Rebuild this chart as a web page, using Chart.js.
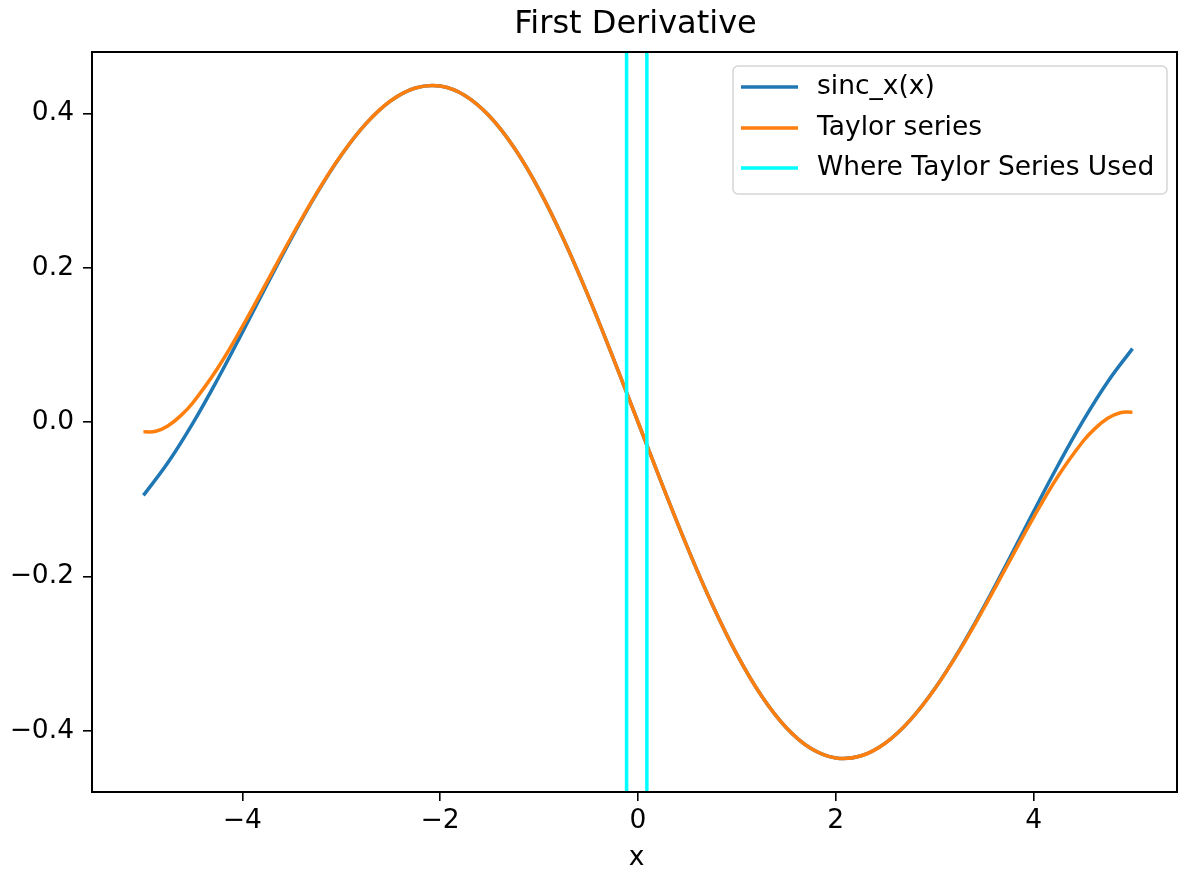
<!DOCTYPE html>
<html>
<head>
<meta charset="utf-8">
<script src="https://cdn.jsdelivr.net/npm/chart.js@4.4.0/dist/chart.umd.min.js"></script>
<style>
  html, body { margin: 0; padding: 0; background: #fff; }
  #wrap { width: 1178px; height: 875px; }
</style>
</head>
<body>
<div id="wrap"><canvas id="derivChart" width="1178" height="875"></canvas></div>
<script>
// x positions read along the axis
var xValues = [-5, -4.75, -4.5, -4.25, -4, -3.75, -3.5, -3.25, -3, -2.75, -2.5, -2.25, -2, -1.75, -1.5, -1.25, -1, -0.75, -0.5, -0.25,
  0, 0.25, 0.5, 0.75, 1, 1.25, 1.5, 1.75, 2, 2.25, 2.5, 2.75, 3, 3.25, 3.5, 3.75, 4, 4.25, 4.5, 4.75, 5];

// blue curve: sinc_x(x)
var sincValues = [-0.0951, -0.0522, -0.0014, 0.0554, 0.1161, 0.1782, 0.2389, 0.2956, 0.3457, 0.3866, 0.4162, 0.4329, 0.4354, 0.4232, 0.3962, 0.3551, 0.3012, 0.2362, 0.1625, 0.0828,
  0, -0.0828, -0.1625, -0.2362, -0.3012, -0.3551, -0.3962, -0.4232, -0.4354, -0.4329, -0.4162, -0.3866, -0.3457, -0.2956, -0.2389, -0.1782, -0.1161, -0.0554, 0.0014, 0.0522, 0.0951];

// orange curve: Taylor series (a few extra points near the ends where it bends)
var taylorX = [-5, -4.875, -4.75, -4.625, -4.5, -4.25, -4, -3.75, -3.5, -3.25, -3, -2.75, -2.5, -2.25, -2, -1.75, -1.5, -1.25, -1, -0.75, -0.5, -0.25,
  0, 0.25, 0.5, 0.75, 1, 1.25, 1.5, 1.75, 2, 2.25, 2.5, 2.75, 3, 3.25, 3.5, 3.75, 4, 4.25, 4.5, 4.625, 4.75, 4.875, 5];
var taylorValues = [-0.0128, -0.0120, -0.0048, 0.0079, 0.0250, 0.0697, 0.1235, 0.1819, 0.2407, 0.2964, 0.3460, 0.3867, 0.4163, 0.4329, 0.4354, 0.4232, 0.3962, 0.3551, 0.3012, 0.2362, 0.1625, 0.0828,
  0, -0.0828, -0.1625, -0.2362, -0.3012, -0.3551, -0.3962, -0.4232, -0.4354, -0.4329, -0.4163, -0.3867, -0.3460, -0.2964, -0.2407, -0.1819, -0.1235, -0.0697, -0.0250, -0.0079, 0.0048, 0.0120, 0.0128];

// cyan vertical lines
var taylorBounds = [-0.115, 0.09];

var xTicks = [-4, -2, 0, 2, 4];
var yTicks = [-0.4, -0.2, 0.0, 0.2, 0.4];

var legendLabels = ['sinc_x(x)', 'Taylor series', 'Where Taylor Series Used'];
var legendColors = ['#1f77b4', '#ff7f0e', '#00ffff'];

var fontName = '"DejaVu Sans", sans-serif';

function toPoints(xs, ys) {
  var pts = [];
  for (var i = 0; i < xs.length; i++) {
    pts.push({ x: xs[i], y: ys[i] });
  }
  return pts;
}

function minusSign(v, digits) {
  return v.toFixed(digits).replace('-', '\u2212');
}

var datasets = [
  {
    label: legendLabels[0],
    data: toPoints(xValues, sincValues),
    borderColor: legendColors[0],
    borderWidth: 3.5,
    tension: 0.4,
    order: 3
  },
  {
    label: legendLabels[1],
    data: toPoints(taylorX, taylorValues),
    borderColor: legendColors[1],
    borderWidth: 3.5,
    tension: 0.4,
    order: 2
  }
];
for (var i = 0; i < taylorBounds.length; i++) {
  datasets.push({
    label: legendLabels[2],
    data: [{ x: taylorBounds[i], y: -1 }, { x: taylorBounds[i], y: 1 }],
    borderColor: legendColors[2],
    borderWidth: 3.5,
    order: 1
  });
}

// spines, title, x label and legend box like the original figure
var framePlugin = {
  id: 'framePlugin',
  afterDraw: function (chart) {
    var ctx = chart.ctx;
    var a = chart.chartArea;
    ctx.save();
    ctx.strokeStyle = '#000';
    ctx.lineWidth = 2;
    ctx.strokeRect(a.left, a.top, a.right - a.left, a.bottom - a.top);

    ctx.fillStyle = '#000';
    ctx.textAlign = 'center';
    ctx.textBaseline = 'middle';
    ctx.font = '32px ' + fontName;
    ctx.fillText('First Derivative', (a.left + a.right) / 2 + 1, 25);
    ctx.font = '26.5px ' + fontName;
    ctx.fillText('x', (a.left + a.right) / 2 + 2, 858);

    // legend
    var bx = 733, by = 66, bw = 434, bh = 128, r = 5;
    ctx.beginPath();
    ctx.moveTo(bx + r, by);
    ctx.lineTo(bx + bw - r, by);
    ctx.arcTo(bx + bw, by, bx + bw, by + r, r);
    ctx.lineTo(bx + bw, by + bh - r);
    ctx.arcTo(bx + bw, by + bh, bx + bw - r, by + bh, r);
    ctx.lineTo(bx + r, by + bh);
    ctx.arcTo(bx, by + bh, bx, by + bh - r, r);
    ctx.lineTo(bx, by + r);
    ctx.arcTo(bx, by, bx + r, by, r);
    ctx.closePath();
    ctx.fillStyle = 'rgba(255,255,255,0.8)';
    ctx.fill();
    ctx.strokeStyle = '#d6d6d6';
    ctx.lineWidth = 1.5;
    ctx.stroke();

    var rows = [87, 128, 168];
    ctx.textAlign = 'left';
    ctx.font = '26.5px ' + fontName;
    for (var k = 0; k < legendLabels.length; k++) {
      ctx.strokeStyle = legendColors[k];
      ctx.lineWidth = 3.5;
      ctx.beginPath();
      ctx.moveTo(741, rows[k]);
      ctx.lineTo(798, rows[k]);
      ctx.stroke();
      ctx.fillStyle = '#000';
      ctx.fillText(legendLabels[k], 817, rows[k]);
    }
    ctx.restore();
  }
};

var config = {
  type: 'scatter',
  data: { datasets: datasets },
  options: {
    responsive: false,
    animation: false,
    showLine: true,
    elements: { point: { radius: 0, hoverRadius: 0 } },
    layout: { padding: { top: 52, right: 1, left: 0, bottom: 0 } },
    plugins: {
      legend: { display: false },
      title: { display: false },
      tooltip: { enabled: false }
    },
    scales: {
      x: {
        type: 'linear',
        min: -5.52,
        max: 5.45,
        afterFit: function (s) { s.height = 83; },
        afterBuildTicks: function (s) {
          s.ticks = xTicks.map(function (v) { return { value: v }; });
        },
        grid: { drawOnChartArea: false, drawTicks: true, tickLength: 9, color: '#000', lineWidth: 1.6 },
        border: { display: true, color: '#000', width: 2 },
        ticks: {
          padding: 4,
          color: '#000',
          font: { family: fontName, size: 26.5 },
          maxRotation: 0,
          callback: function (v) { return minusSign(v, 0); }
        }
      },
      y: {
        type: 'linear',
        min: -0.4795,
        max: 0.4795,
        afterFit: function (s) { s.width = 92; },
        afterBuildTicks: function (s) {
          s.ticks = yTicks.map(function (v) { return { value: v }; });
        },
        grid: { drawOnChartArea: false, drawTicks: true, tickLength: 9, color: '#000', lineWidth: 1.6 },
        border: { display: true, color: '#000', width: 2 },
        ticks: {
          padding: 9,
          color: '#000',
          font: { family: fontName, size: 26.5 },
          callback: function (v) { return minusSign(v, 1); }
        }
      }
    }
  },
  plugins: [framePlugin]
};

var derivChart = new Chart(document.getElementById('derivChart'), config);
</script>
</body>
</html>
